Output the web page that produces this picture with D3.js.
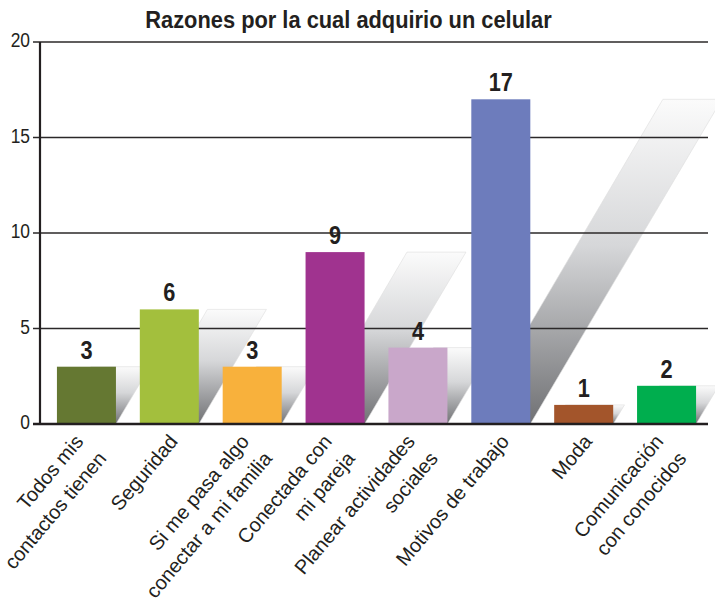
<!DOCTYPE html>
<html>
<head>
<meta charset="utf-8">
<script src="https://cdn.jsdelivr.net/npm/d3@7"></script>
<style>
  html, body { margin: 0; padding: 0; background: #ffffff; }
  svg { display: block; }
  text { font-family: "Liberation Sans", Arial, Helvetica, sans-serif; fill: #231f20; }
</style>
</head>
<body>
<svg id="chart" width="715" height="603"></svg>
<script>
// ---- data ----
const chartTitle = "Razones por la cual adquirio un celular";
const categories = [
  "Todos mis\ncontactos tienen",
  "Seguridad",
  "Si me pasa algo\nconectar a mi familia",
  "Conectada con\nmi pareja",
  "Planear actividades\nsociales",
  "Motivos de trabajo",
  "Moda",
  "Comunicación\ncon conocidos"
];
const values = [3, 6, 3, 9, 4, 17, 1, 2];
const barColors = ["#657832", "#a3bf3d", "#f8b13c", "#a0338f", "#c9a7ca", "#6d7cbc", "#a3552b", "#00ae4e"];
const yTicks = [0, 5, 10, 15, 20];

// ---- layout ----
const plotLeft = 40, plotRight = 708, plotTop = 42, plotBase = 424;
const skew = 0.59;
const squeeze = 0.87;

const svg = d3.select("#chart");

const x = d3.scaleBand().domain(categories).range([45, plotRight]).paddingInner(0.288).paddingOuter(0.144);
const y = d3.scaleLinear().domain([0, 20]).range([plotBase, plotTop]);

// gradient for shadows
const defs = svg.append("defs");
const grad = defs.append("linearGradient").attr("id", "shadowGrad")
  .attr("x1", 0).attr("y1", 0).attr("x2", 0).attr("y2", 1);
grad.append("stop").attr("offset", "0%").attr("stop-color", "#fbfbfb");
grad.append("stop").attr("offset", "45%").attr("stop-color", "#d6d7d9");
grad.append("stop").attr("offset", "100%").attr("stop-color", "#707174");

const data = categories.map((c, i) => ({ c, v: values[i], color: barColors[i] }));

// shadows
svg.append("g").selectAll("path").data(data).join("path")
  .attr("d", d => {
    const xl = x(d.c), w = x.bandwidth(), yt = y(d.v), h = plotBase - yt;
    const off = skew * h;
    return `M${xl},${plotBase}L${xl + w},${plotBase}L${xl + w + off},${yt}L${xl + off},${yt}Z`;
  })
  .attr("fill", "url(#shadowGrad)")
  .attr("stroke", "#dedede")
  .attr("stroke-width", 0.6);

// gridlines
svg.append("g").selectAll("line").data(yTicks.filter(t => t > 0)).join("line")
  .attr("x1", plotLeft - 7).attr("x2", plotRight)
  .attr("y1", d => y(d)).attr("y2", d => y(d))
  .attr("stroke", "#2b2829").attr("stroke-width", 1.3);

// bars
svg.append("g").selectAll("rect").data(data).join("rect")
  .attr("x", d => x(d.c)).attr("width", x.bandwidth())
  .attr("y", d => y(d.v)).attr("height", d => plotBase - y(d.v))
  .attr("fill", d => d.color);

// axis lines
svg.append("line").attr("x1", plotLeft).attr("x2", plotLeft).attr("y1", plotTop).attr("y2", plotBase + 1)
  .attr("stroke", "#231f20").attr("stroke-width", 2.2);
svg.append("line").attr("x1", plotLeft - 7).attr("x2", plotRight).attr("y1", plotBase).attr("y2", plotBase)
  .attr("stroke", "#231f20").attr("stroke-width", 2.6);

// y tick labels
svg.append("g").selectAll("text").data(yTicks).join("text")
  .attr("transform", d => `translate(30,${y(d) + 5}) scale(${squeeze},1)`)
  .attr("text-anchor", "end")
  .style("font-size", "20px")
  .text(d => d);

// value labels
svg.append("g").selectAll("text").data(data).join("text")
  .attr("transform", d => `translate(${x(d.c) + x.bandwidth() / 2},${y(d.v) - 8}) scale(${squeeze},1)`)
  .attr("text-anchor", "middle")
  .style("font-size", "25px").style("font-weight", "bold")
  .text(d => d.v);

// title
svg.append("text")
  .attr("transform", `translate(348.5,28) scale(0.91,1)`)
  .attr("text-anchor", "middle")
  .style("font-size", "24px").style("font-weight", "bold")
  .text(chartTitle);

// x labels
const lg = svg.append("g").selectAll("g").data(data).join("g")
  .attr("transform", d => {
    const n = d.c.split("\n").length;
    const cx = x(d.c) + x.bandwidth() / 2;
    return `translate(${cx + 1 - 11.5 * (n - 1)},435) rotate(-50)`;
  });
lg.each(function(d) {
  const lines = d.c.split("\n");
  d3.select(this).selectAll("text").data(lines).join("text")
    .attr("text-anchor", "end")
    .attr("x", (l, i) => 1.8 * i)
    .attr("y", (l, i) => 11 + 28.5 * i)
    .style("font-size", "20px")
    .text(l => l);
});
</script>
</body>
</html>
